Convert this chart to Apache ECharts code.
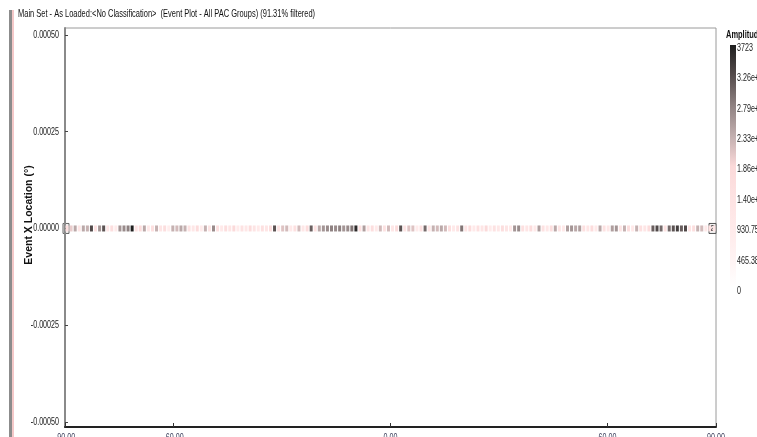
<!DOCTYPE html>
<html>
<head>
<meta charset="utf-8">
<script src="https://cdn.jsdelivr.net/npm/echarts@6/dist/echarts.min.js"></script>
<style>
html, body { margin: 0; padding: 0; background: #ffffff; }
#chart { width: 757px; height: 437px; }
</style>
</head>
<body>
<div id="chart"></div>
<script>
// ---- data ----
const chartTitle = 'Main Set - As Loaded:<No Classification>  (Event Plot - All PAC Groups) (91.31% filtered)';
const yAxisName = 'Event X Location (\u00b0)';
const colorbarTitle = 'Amplitude';

// Event bins along the horizontal position axis
const xMin = -90;
const xMax = 90;
const binWidth = 1.125;

// Amplitude of the events in each bin, left to right
const amplitudes = [
  1500, 2000, 2400, 1200, 2400, 2300, 3300, 1400, 2600, 3200,
  1100, 1600,  900, 2600, 2700, 2800, 3723, 1300, 1700, 2400,
  1000, 1500, 2300, 1200, 1600,  800, 2300, 2200, 2400, 2300,
  1400, 1100, 1700,  900, 2300, 1300, 2700, 1500, 1000, 1600,
  1200, 1800,  900, 1400, 1100, 1700, 1300, 1000, 1500, 1200,
  1600, 3200, 1300, 2100, 2200, 1000, 1500, 2200, 1100, 1700,
  3100, 1400, 2400, 2600, 2700, 2800, 2700, 2800, 2600, 2700,
  2900, 3600, 1500, 2500, 1200, 1600, 1000, 2200, 1400, 2200,
  1100, 1700, 3200, 1300, 2100, 2100,  900, 1500, 3000, 1200,
  2300, 2200, 2400, 2200, 1600, 1000, 1400, 2900, 1300, 1700,
  1000, 1500, 1200, 1800,  900, 1400, 1100, 1600, 1300, 1000,
  2600, 2700, 1500, 1200, 1700, 1000, 2500, 1400, 1100, 1600,
  2400, 1300, 1000, 2500, 2600, 2400, 2500, 1500, 1200, 1700,
  1000, 2400, 1400, 1100, 2500, 2600, 1300, 2300, 1600, 1000,
  2300, 1500, 1200, 1700, 3100, 3300, 3000, 1400, 3000, 3200,
  3400, 3100, 3300, 1300, 1600, 2300, 2200, 1000, 1500, 1200
];

const xTickValues = [-90, -60, 0, 60, 90];
const xTickLabels = ['-90.00', '-60.00', '0.00', '60.00', '90.00'];
const yTickValues = [-0.0005, -0.00025, 0, 0.00025, 0.0005];
const yTickLabels = ['-0.00050', '-0.00025', '0.00000', '0.00025', '0.00050'];
const yMin = -0.000513;
const yMax = 0.000518;

const ampMin = 0;
const ampMax = 3723;
const colorbarLabels = ['3723', '3.26e+3', '2.79e+3', '2.33e+3', '1.86e+3', '1.40e+3', '930.75', '465.38', '0'];
// colour ramp from lowest to highest amplitude
const colorRamp = ['#ffffff', '#fff3f3', '#ffeaea', '#fde2e2', '#fbd9d9', '#c2afaf', '#8f8282', '#554c4c', '#1e1e1e'];

// overflow counters drawn at both ends of the strip
const leftOverflowText = '\u00b1';
const rightOverflowText = '2';

// ---- chart ----
const points = amplitudes.map((a, i) => [xMin + binWidth * (i + 0.5), 0, a]);

const baseFont = '"Liberation Sans", Arial, sans-serif';
const squeeze = 0.68; // horizontal squeeze giving the narrow UI lettering

const chart = echarts.init(document.getElementById('chart'), null, { renderer: 'canvas' });

chart.setOption({
  animation: false,
  backgroundColor: '#ffffff',
  grid: {
    left: 65, right: 41, top: 28, bottom: 10,
    outerBoundsMode: 'none', containLabel: false,
    show: true, borderColor: '#9a9a9a', borderWidth: 1, backgroundColor: '#ffffff'
  },
  xAxis: {
    type: 'value', min: xMin, max: xMax,
    splitLine: { show: false },
    axisLine: { show: true, onZero: false, lineStyle: { color: '#222', width: 2 } },
    axisTick: { show: true, inside: true, length: 4, customValues: xTickValues, lineStyle: { color: '#333' } },
    axisLabel: { show: false }
  },
  yAxis: {
    type: 'value', min: yMin, max: yMax,
    splitLine: { show: false },
    axisLine: { show: true, onZero: false, lineStyle: { color: '#8a8a8a', width: 2 } },
    axisTick: { show: true, inside: true, length: 3, customValues: yTickValues, lineStyle: { color: '#444' } },
    axisLabel: { show: false }
  },
  visualMap: {
    type: 'continuous', show: false, dimension: 2,
    min: ampMin, max: ampMax,
    inRange: { color: colorRamp }
  },
  series: [{
    type: 'scatter',
    symbol: 'rect',
    symbolSize: [3, 6],
    data: points,
    itemStyle: { opacity: 1 }
  }]
});

// ---- decorations: narrow tick labels, colour bar, titles, overflow counters ----
function narrowText(x, y, text, opts) {
  return {
    type: 'text', x: x, y: y, scaleX: squeeze, silent: true,
    style: Object.assign({
      text: text, font: '10px ' + baseFont, fill: '#222',
      textAlign: 'left', textVerticalAlign: 'middle'
    }, opts || {})
  };
}

const graphics = [
  { type: 'rect', shape: { x: 9, y: 10, width: 3, height: 427 }, style: { fill: '#8c8c8c' }, silent: true },
  { type: 'rect', shape: { x: 12, y: 10, width: 2, height: 427 }, style: { fill: '#f4c8c8' }, silent: true },
  narrowText(18, 14, chartTitle, { font: '11px ' + baseFont, fill: '#111' }),
  narrowText(726, 35, colorbarTitle, { font: 'bold 11px ' + baseFont, fill: '#111' }),
  {
    type: 'text', x: 29, y: 215, rotation: Math.PI / 2, silent: true,
    style: { text: yAxisName, font: 'bold 10.5px ' + baseFont, fill: '#111', textAlign: 'center', textVerticalAlign: 'middle' }
  }
];

yTickValues.forEach((v, i) => {
  const p = chart.convertToPixel({ gridIndex: 0 }, [xMin, v]);
  graphics.push(narrowText(p[0] - 6, p[1], yTickLabels[i], { textAlign: 'right', font: '10.5px ' + baseFont }));
});
xTickValues.forEach((v, i) => {
  const p = chart.convertToPixel({ gridIndex: 0 }, [v, yMin]);
  graphics.push(narrowText(p[0], p[1] + 6, xTickLabels[i], { textAlign: 'center', textVerticalAlign: 'top', fill: '#3b3f5c', font: '10.5px ' + baseFont }));
});

const barX = 730, barTop = 45, barH = 243, barW = 6;
const labelStep = barH / (colorbarLabels.length - 1);
graphics.push({
  type: 'rect', shape: { x: barX, y: barTop, width: barW, height: barH }, silent: true,
  style: {
    fill: new echarts.graphic.LinearGradient(0, 1, 0, 0,
      colorRamp.map((c, i) => ({ offset: i / (colorRamp.length - 1), color: c })))
  }
});
colorbarLabels.forEach((t, i) => {
  graphics.push(narrowText(barX + barW + 1, barTop + 3 + i * labelStep, t, { font: '10.5px ' + baseFont }));
});

const leftPx = chart.convertToPixel({ gridIndex: 0 }, [xMin, 0]);
const rightPx = chart.convertToPixel({ gridIndex: 0 }, [xMax, 0]);
graphics.push(
  { type: 'rect', shape: { x: leftPx[0] - 2, y: leftPx[1] - 5, width: 6, height: 10 }, style: { fill: '#f2f2f2', stroke: '#666', lineWidth: 1 }, silent: true },
  { type: 'text', x: leftPx[0] + 1, y: leftPx[1], silent: true, style: { text: leftOverflowText, font: '8px ' + baseFont, fill: '#111', textAlign: 'center', textVerticalAlign: 'middle' } },
  { type: 'rect', shape: { x: rightPx[0] - 7, y: rightPx[1] - 5, width: 7, height: 10 }, style: { fill: '#f2f2f2', stroke: '#555', lineWidth: 1 }, silent: true },
  { type: 'text', x: rightPx[0] - 3.5, y: rightPx[1], silent: true, style: { text: rightOverflowText, font: 'bold 9px ' + baseFont, fill: '#111', textAlign: 'center', textVerticalAlign: 'middle' } }
);

chart.setOption({ graphic: graphics });
</script>
</body>
</html>
